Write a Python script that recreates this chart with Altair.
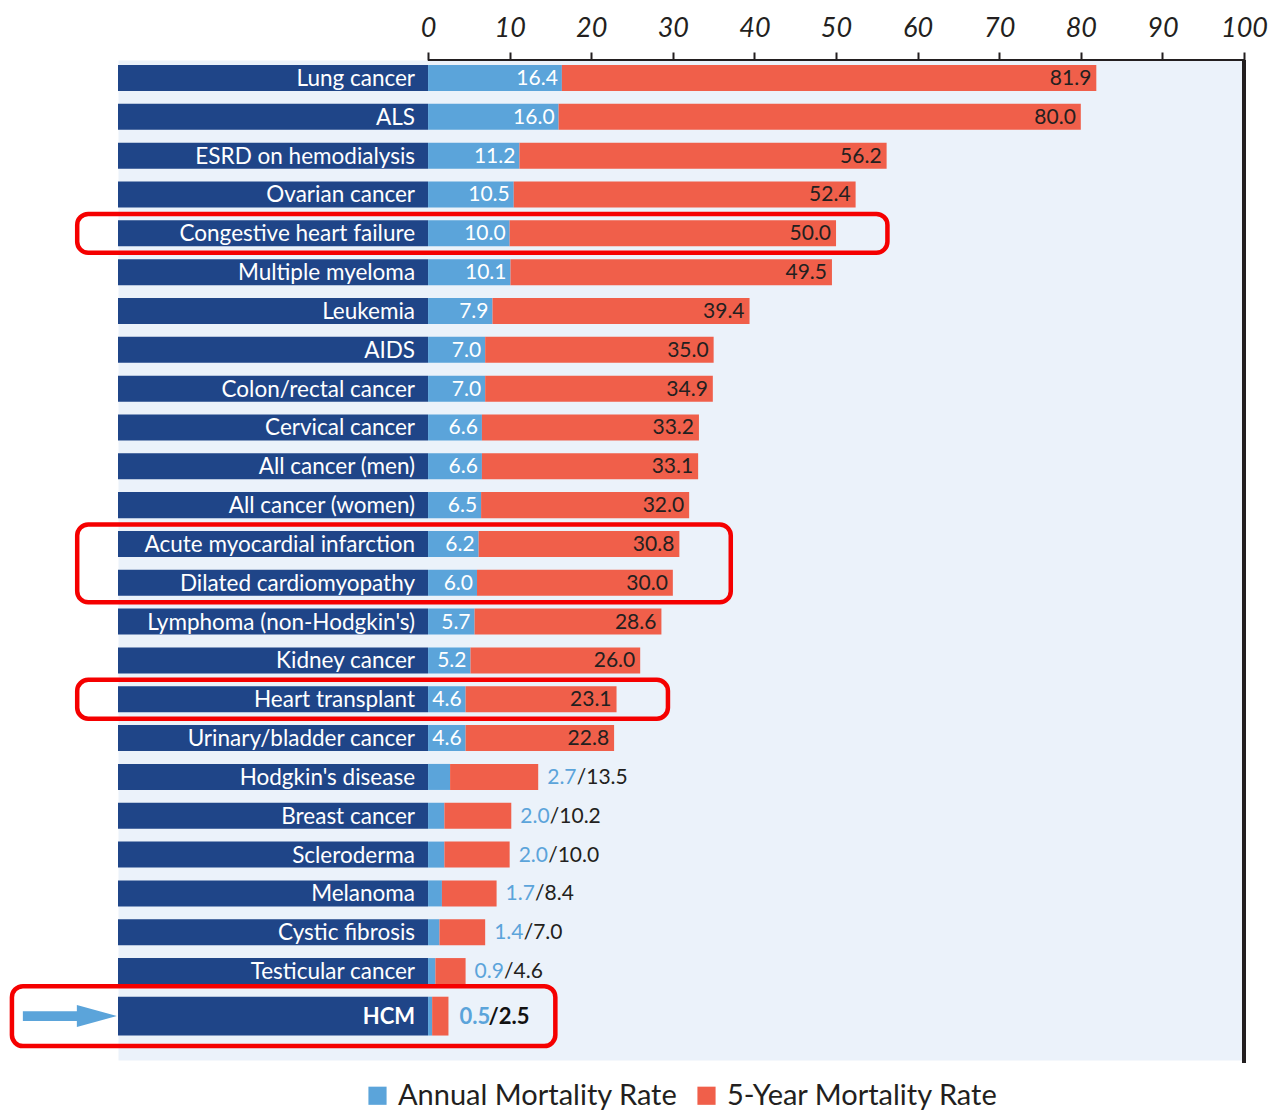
import altair as alt
import numpy as np
import pandas as pd

# ---------------- data ----------------
conditions = [
    "Lung cancer", "ALS", "ESRD on hemodialysis", "Ovarian cancer",
    "Congestive heart failure", "Multiple myeloma", "Leukemia", "AIDS",
    "Colon/rectal cancer", "Cervical cancer", "All cancer (men)",
    "All cancer (women)", "Acute myocardial infarction", "Dilated cardiomyopathy",
    "Lymphoma (non-Hodgkin's)", "Kidney cancer", "Heart transplant",
    "Urinary/bladder cancer", "Hodgkin's disease", "Breast cancer",
    "Scleroderma", "Melanoma", "Cystic fibrosis", "Testicular cancer", "HCM",
]
annual_rate = [16.4, 16.0, 11.2, 10.5, 10.0, 10.1, 7.9, 7.0, 7.0, 6.6, 6.6, 6.5,
               6.2, 6.0, 5.7, 5.2, 4.6, 4.6, 2.7, 2.0, 2.0, 1.7, 1.4, 0.9, 0.5]
five_year_rate = [81.9, 80.0, 56.2, 52.4, 50.0, 49.5, 39.4, 35.0, 34.9, 33.2, 33.1, 32.0,
                  30.8, 30.0, 28.6, 26.0, 23.1, 22.8, 13.5, 10.2, 10.0, 8.4, 7.0, 4.6, 2.5]
highlight_groups = [
    ["Congestive heart failure"],
    ["Acute myocardial infarction", "Dilated cardiomyopathy"],
    ["Heart transplant"],
    ["HCM"],
]
featured = "HCM"
series_names = ["Annual Mortality Rate", "5-Year Mortality Rate"]
x_ticks = list(range(0, 101, 10))

# ---------------- style ----------------
NAVY = "#1F4588"
BLUE = "#5BA4DA"
RED = "#F05F4A"
BG = "#EBF2FA"
INK = "#231F20"
BOX = "#F50000"
FONT = "Lato"
FS = 21
FS_NAME = 22.5

X_MIN = -38          # the navy label band lives left of zero
Y_TOP, Y_BOT = -0.4636, 25.29

# ---------------- tables ----------------
rows = pd.DataFrame({"condition": conditions, "annual": annual_rate, "five": five_year_rate})
rows["row"] = np.arange(len(rows))
rows["featured"] = rows["condition"] == featured
rows["pos"] = rows["row"] + np.where(rows["featured"], 0.16, 0.0)
half = np.where(rows["featured"], 0.5, 0.335)
rows["y0"] = rows["pos"] - half
rows["y1"] = rows["pos"] + half
rows["inside"] = rows["five"] >= 20
rows["slash"] = ["/" + f"{v:.1f}" for v in rows["five"]]

seg = pd.concat([
    pd.DataFrame({"series": series_names[0], "start": 0.0, "end": rows["annual"],
                  "y0": rows["y0"], "y1": rows["y1"]}),
    pd.DataFrame({"series": series_names[1], "start": rows["annual"], "end": rows["five"],
                  "y0": rows["y0"], "y1": rows["y1"]}),
])

boxes = []
for grp in highlight_groups:
    sub = rows[rows["condition"].isin(grp)]
    feat = bool(sub["featured"].any())
    boxes.append({
        "x0": X_MIN - (13.0 if feat else 5.0),
        "x1": sub["five"].max() + (13.1 if feat else 6.3),
        "y0": sub["pos"].min() - (0.77 if feat else 0.5),
        "y1": sub["pos"].max() + (0.77 if feat else 0.5),
    })
boxes = pd.DataFrame(boxes)

# ---------------- encodings ----------------
xscale = alt.Scale(domain=[X_MIN, 100], nice=False, zero=False)
yscale = alt.Scale(domain=[Y_TOP, Y_BOT], nice=False, zero=False, reverse=True)
xaxis = alt.Axis(orient="top", values=x_ticks, domain=False, grid=False,
                 labelFont=FONT, labelFontSize=27, labelFontStyle="italic",
                 labelColor=INK, tickColor=INK, tickWidth=2, tickSize=8,
                 labelPadding=10, labelFlush=False)


def X(field):
    return alt.X(field, type="quantitative", scale=xscale, axis=xaxis, title=None)


def Y(field):
    return alt.Y(field, type="quantitative", scale=yscale, axis=None, title=None)


base = alt.Chart(rows)

label_band = base.transform_calculate(lx=str(X_MIN), zx="0").mark_rect(color=NAVY).encode(
    x=X("lx"), x2="zx:Q", y=Y("y0"), y2="y1:Q")

bars = alt.Chart(seg).mark_rect().encode(
    x=X("start"), x2="end:Q", y=Y("y0"), y2="y1:Q",
    color=alt.Color("series:N", scale=alt.Scale(domain=series_names, range=[BLUE, RED]),
                    legend=alt.Legend(orient="none", legendX=245, legendY=1021,
                                      direction="horizontal", title=None,
                                      symbolType="square", symbolSize=330,
                                      symbolStrokeWidth=0, labelFont=FONT,
                                      labelFontSize=29, labelColor=INK,
                                      labelOffset=6, columnPadding=14, labelLimit=0)))

names = base.transform_filter("!datum.featured").transform_calculate(zx="0").mark_text(
    align="right", baseline="middle", dx=-13, dy=1, color="white", font=FONT, fontSize=FS_NAME
).encode(x=X("zx"), y=Y("pos"), text="condition:N")

names_feat = base.transform_filter("datum.featured").transform_calculate(zx="0").mark_text(
    align="right", baseline="middle", dx=-13, dy=1, color="white", font=FONT, fontSize=22,
    fontWeight="bold"
).encode(x=X("zx"), y=Y("pos"), text="condition:N")

ann_in = base.transform_filter("datum.inside").mark_text(
    align="right", baseline="middle", dx=-4, dy=1, color="white", font=FONT, fontSize=FS
).encode(x=X("annual"), y=Y("pos"), text=alt.Text("annual:Q", format=".1f"))

five_in = base.transform_filter("datum.inside").mark_text(
    align="right", baseline="middle", dx=-5, dy=1, color=INK, font=FONT, fontSize=FS
).encode(x=X("five"), y=Y("pos"), text=alt.Text("five:Q", format=".1f"))

out_filter = "!datum.inside && !datum.featured"
ann_out = base.transform_filter(out_filter).mark_text(
    align="left", baseline="middle", dx=9, dy=1, color=BLUE, font=FONT, fontSize=FS
).encode(x=X("five"), y=Y("pos"), text=alt.Text("annual:Q", format=".1f"))

five_out = base.transform_filter(out_filter).mark_text(
    align="left", baseline="middle", dx=9 + 29.5, dy=1, color=INK, font=FONT, fontSize=FS
).encode(x=X("five"), y=Y("pos"), text="slash:N")

ann_feat = base.transform_filter("datum.featured").mark_text(
    align="left", baseline="middle", dx=11, dy=1, color=BLUE, font=FONT, fontSize=22,
    fontWeight="bold"
).encode(x=X("five"), y=Y("pos"), text=alt.Text("annual:Q", format=".1f"))

five_feat = base.transform_filter("datum.featured").mark_text(
    align="left", baseline="middle", dx=11 + 29, dy=1, color="#111111", font=FONT, fontSize=22,
    fontWeight="bold"
).encode(x=X("five"), y=Y("pos"), text="slash:N")

border = alt.Chart(rows).mark_rule(color=INK, strokeWidth=3).encode(
    x=alt.X(datum=100, type="quantitative", scale=xscale, axis=xaxis),
    y=alt.value(0), y2=alt.value(1003))

top_line = alt.Chart(rows).mark_rule(color=INK, strokeWidth=2).encode(
    x=alt.X(datum=0, type="quantitative", scale=xscale, axis=xaxis),
    x2=alt.datum(100), y=alt.value(0))

box_layer = alt.Chart(boxes).mark_rect(
    fillOpacity=0, stroke=BOX, strokeWidth=4.5, cornerRadius=11
).encode(x=X("x0"), x2="x1:Q", y=Y("y0"), y2="y1:Q")

ARROW = ("M-1,-0.106L0.149,-0.106L0.149,-0.234L1,0L0.149,0.234"
         "L0.149,0.106L-1,0.106Z")
arrow = base.transform_filter("datum.featured").transform_calculate(
    ax=str(X_MIN - 5.9)).mark_point(
    shape=ARROW, size=8836, filled=True, color=BLUE, opacity=1, strokeWidth=0
).encode(x=X("ax"), y=Y("pos"))

chart = alt.layer(
    label_band, bars, names, names_feat, ann_in, five_in, ann_out, five_out,
    ann_feat, five_feat, border, top_line, box_layer, arrow
).properties(
    width=1126, height=1000,
    autosize=alt.AutoSizeParams(type="none"),
    padding={"left": 118, "top": 60, "right": 29, "bottom": 50},
    background="white",
).configure_view(fill=BG, strokeOpacity=0)

chart.save("out.html", embed_options={"renderer": "svg", "actions": False})
